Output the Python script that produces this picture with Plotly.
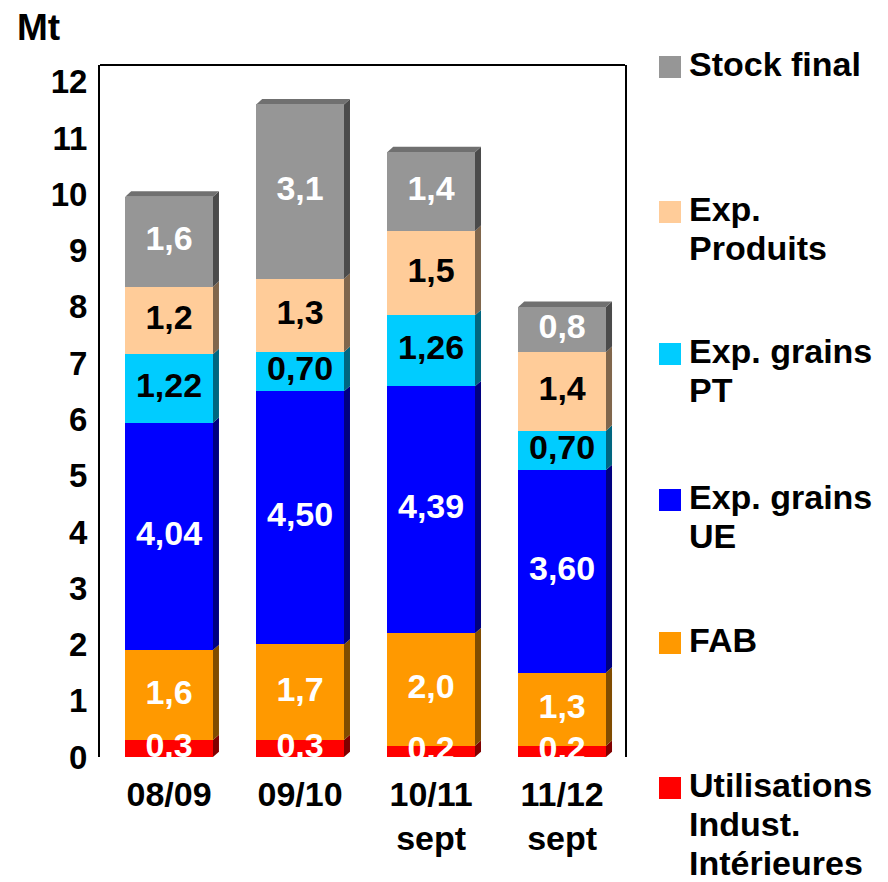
import plotly.graph_objects as go

# Campaigns (x categories)
seasons = ["08/09", "09/10", "10/11<br>sept", "11/12<br>sept"]

# Uses of durum wheat, Mt, stacked bottom to top
util_indust = [0.3, 0.3, 0.2, 0.2]
fab = [1.6, 1.7, 2.0, 1.3]
exp_grains_ue = [4.04, 4.50, 4.39, 3.60]
exp_grains_pt = [1.22, 0.70, 1.26, 0.70]
exp_produits = [1.2, 1.3, 1.5, 1.4]
stock_final = [1.6, 3.1, 1.4, 0.8]

series_names = [
    "Utilisations<br>Indust.<br>Intérieures",
    "FAB",
    "Exp. grains<br>UE",
    "Exp. grains<br>PT",
    "Exp.<br>Produits",
    "Stock final",
]
series_values = [util_indust, fab, exp_grains_ue, exp_grains_pt, exp_produits, stock_final]
decimals = [1, 1, 2, 2, 1, 1]

front_colors = ["#FF0000", "#FF9900", "#0000FF", "#00CCFF", "#FFCC99", "#969696"]
side_colors = ["#800000", "#804C00", "#000080", "#006680", "#80664C", "#4B4B4B"]
top_color = "#707070"
label_colors = ["white", "white", "white", "black", "black", "white"]

FONT = "Liberation Sans, Arial, sans-serif"
FS_LABEL = 34
FS_TICK_Y = 33
FS_TICK_X = 34
FS_LEGEND = 34
LEGEND_LINE = 39  # px between legend text lines
BAR_W = 0.67
DEPTH_X = 0.046   # 3D depth, x units
DEPTH_Y = 0.095   # 3D depth, y units

idx = list(range(len(seasons)))

fig = go.Figure()
shapes = []

base = [0.0] * len(idx)
for name, vals, dec, fc, sc, lc in zip(series_names, series_values, decimals,
                                       front_colors, side_colors, label_colors):
    fig.add_trace(go.Bar(
        x=idx, y=vals, width=BAR_W, name=name,
        marker=dict(color=fc, line=dict(width=0)),
        showlegend=False, hoverinfo="skip",
    ))
    # right-hand side face of each segment
    for i, v in enumerate(vals):
        xr = i + BAR_W / 2
        y0, y1 = base[i], base[i] + v
        shapes.append(dict(
            type="path", xref="x", yref="y", layer="below",
            path=(f"M {xr},{y0} L {xr + DEPTH_X},{y0 + DEPTH_Y} "
                  f"L {xr + DEPTH_X},{y1 + DEPTH_Y} L {xr},{y1} Z"),
            fillcolor=sc, line=dict(width=0),
        ))
    # value labels at segment centres
    fig.add_trace(go.Scatter(
        x=idx, y=[b + v / 2 for b, v in zip(base, vals)],
        mode="text",
        text=[f"{v:.{dec}f}".replace(".", ",") for v in vals],
        textfont=dict(family=FONT, size=FS_LABEL, color=lc, weight="bold"),
        cliponaxis=True, showlegend=False, hoverinfo="skip",
    ))
    base = [b + v for b, v in zip(base, vals)]

# top face of each column
for i, top in enumerate(base):
    xl, xr = i - BAR_W / 2, i + BAR_W / 2
    shapes.append(dict(
        type="path", xref="x", yref="y", layer="below",
        path=(f"M {xl},{top} L {xl + DEPTH_X},{top + DEPTH_Y} "
              f"L {xr + DEPTH_X},{top + DEPTH_Y} L {xr},{top} Z"),
        fillcolor=top_color, line=dict(width=0),
    ))

# frame top edge
shapes.append(dict(type="line", xref="paper", yref="paper", x0=0, x1=1, y0=1, y1=1,
                   line=dict(color="black", width=2)))

# legend drawn on the right, top entry first
PLOT_L, PLOT_R, PLOT_T, PLOT_B = 100, 625, 65, 757
W, H = PLOT_R - PLOT_L, PLOT_B - PLOT_T


def px_x(px):
    return (px - PLOT_L) / W


def px_y(py):
    return (PLOT_B - py) / H


legend_centres = [788, 643, 500, 354, 212, 67]
annotations = []
for name, fc, cy in zip(series_names, front_colors, legend_centres):
    shapes.append(dict(type="rect", xref="paper", yref="paper",
                       x0=px_x(659), x1=px_x(681), y0=px_y(cy + 11), y1=px_y(cy - 11),
                       fillcolor=fc, line=dict(width=0)))
    for k, line in enumerate(name.split("<br>")):
        annotations.append(dict(
            xref="paper", yref="paper", x=px_x(687), y=px_y(cy - 3 + k * LEGEND_LINE),
            xanchor="left", yanchor="middle", align="left", showarrow=False,
            text=line, font=dict(family=FONT, size=FS_LEGEND, color="black", weight="bold"),
        ))

annotations.append(dict(
    xref="paper", yref="paper", x=px_x(15), y=px_y(27),
    xanchor="left", yanchor="middle", showarrow=False,
    text="Mt", font=dict(family=FONT, size=37, color="black", weight="bold"),
))

fig.update_layout(
    width=888, height=882,
    margin=dict(l=PLOT_L, r=888 - PLOT_R, t=PLOT_T, b=882 - PLOT_B),
    paper_bgcolor="white", plot_bgcolor="white",
    barmode="stack", bargap=0,
    shapes=shapes, annotations=annotations,
    showlegend=False,
    xaxis=dict(
        range=[-0.527, 3.48], tickvals=idx, ticktext=seasons,
        showgrid=False, zeroline=False, showline=False, ticks="",
        tickfont=dict(family=FONT, size=FS_TICK_X, color="black", weight="bold"),
        ticklabelstandoff=14,
    ),
    yaxis=dict(
        range=[0, 12.3], tickvals=list(range(0, 13)),
        showgrid=False, zeroline=False, ticks="",
        showline=True, mirror=True, linecolor="black", linewidth=2,
        tickfont=dict(family=FONT, size=FS_TICK_Y, color="black", weight="bold"),
        ticklabelstandoff=4,
    ),
)

fig.write_html("out.html")
